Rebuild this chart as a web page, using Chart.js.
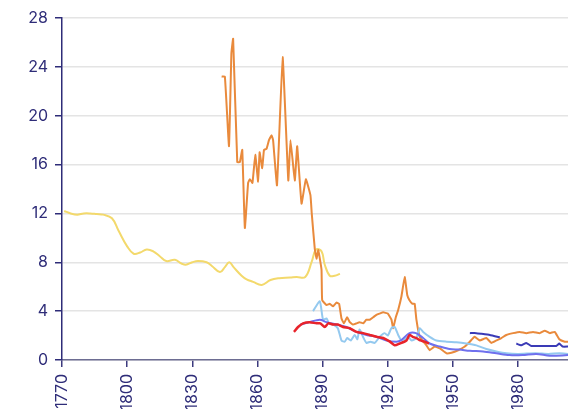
<!DOCTYPE html>
<html>
<head>
<meta charset="utf-8">
<script src="https://cdn.jsdelivr.net/npm/chart.js@4"></script>
<style>
  html, body { margin: 0; padding: 0; background: #fff; overflow: hidden; }
  #wrap { width: 568px; height: 409px; position: relative; }
</style>
</head>
<body>
<div id="wrap"><canvas id="c"></canvas></div>
<script>
// x tick labels (years) and y ticks
const xTicks = [1770, 1800, 1830, 1860, 1890, 1920, 1950, 1980];
const yTicks = [0, 4, 8, 12, 16, 20, 24, 28];

// series: years + values
const yellowYears = [1771, 1774, 1777, 1780, 1783, 1786, 1789, 1793, 1796, 1800, 1803, 1806, 1809, 1812, 1815, 1818, 1822, 1825, 1827, 1830, 1832.6, 1836.6, 1839, 1842.7, 1845, 1847, 1849, 1852.7, 1855, 1858, 1862, 1866, 1870, 1875, 1878, 1882, 1885, 1887, 1889.5, 1891, 1893.3, 1895.6, 1898];
const yellowValues = [12.2, 12.0, 11.9, 12.0, 12.0, 11.95, 11.9, 11.6, 10.6, 9.3, 8.7, 8.8, 9.05, 8.9, 8.5, 8.1, 8.2, 7.9, 7.8, 8.0, 8.1, 8.0, 7.7, 7.2, 7.6, 8.0, 7.6, 6.9, 6.6, 6.4, 6.15, 6.55, 6.7, 6.75, 6.8, 6.8, 8.05, 9.05, 8.9, 7.8, 6.9, 6.9, 7.05];

const orangeYears = [1843.5, 1845, 1846.9, 1848, 1848.8, 1850.7, 1851.9, 1853, 1854.2, 1855.7, 1856.5, 1857.7, 1859, 1860.3, 1861, 1862.2, 1863, 1864.2, 1865.3, 1866.5, 1867.2, 1869, 1871.6, 1874.2, 1875.2, 1877.2, 1878.3, 1880.3, 1882.3, 1884.4, 1885, 1886.4, 1887.2, 1888, 1889.5, 1889.8, 1891.8, 1893.3, 1894.8, 1896.4, 1897.6, 1898.7, 1899.8, 1901.3, 1902.5, 1904, 1905.6, 1907, 1908.7, 1910.2, 1911.7, 1913.3, 1914.8, 1916.3, 1917.9, 1920, 1921.7, 1922.5, 1923.7, 1924.8, 1926.3, 1927.8, 1929, 1930, 1931.4, 1932.4, 1933.2, 1934.7, 1937.8, 1939.3, 1941.6, 1944, 1947, 1949.3, 1952.4, 1955.5, 1957.8, 1960, 1962.4, 1965.4, 1967.7, 1970, 1972.3, 1974.6, 1977.7, 1980.8, 1983.8, 1986.9, 1990, 1992.3, 1994.6, 1996.9, 1999, 2001.5, 2003];
const orangeValues = [23.2, 23.2, 17.5, 25.1, 26.3, 16.2, 16.2, 17.2, 10.8, 14.5, 14.8, 14.5, 16.8, 14.6, 17.0, 15.7, 17.2, 17.3, 18.0, 18.4, 18.0, 14.3, 24.8, 14.7, 18.0, 14.7, 17.5, 12.8, 14.8, 13.5, 12.0, 9.1, 8.3, 9.0, 7.4, 4.9, 4.5, 4.6, 4.4, 4.7, 4.6, 3.4, 3.0, 3.5, 3.1, 2.9, 3.0, 3.1, 3.0, 3.3, 3.3, 3.5, 3.7, 3.8, 3.9, 3.8, 3.3, 2.6, 3.5, 4.1, 5.2, 6.8, 5.3, 4.9, 4.6, 4.6, 3.3, 1.9, 1.2, 0.8, 1.1, 0.95, 0.55, 0.6, 0.8, 1.1, 1.5, 1.9, 1.6, 1.8, 1.4, 1.6, 1.8, 2.05, 2.2, 2.3, 2.2, 2.3, 2.2, 2.4, 2.2, 2.3, 1.7, 1.5, 1.5];

const lightBlueYears = [1885.6, 1888.7, 1890.2, 1891.8, 1893, 1895, 1897, 1898.7, 1900.2, 1901.3, 1903, 1904.8, 1906, 1907, 1908.6, 1910.2, 1912, 1914, 1916.3, 1918.6, 1920, 1921.7, 1923.2, 1924.8, 1926.3, 1927.8, 1929.4, 1931, 1933.2, 1934.7, 1936.3, 1939.3, 1942.4, 1947, 1951.6, 1956.2, 1960.8, 1965.4, 1970, 1974.6, 1980, 1988, 1994, 1999, 2003];
const lightBlueValues = [4.0, 4.8, 3.3, 3.4, 3.0, 2.9, 2.6, 1.6, 1.5, 1.8, 1.6, 2.05, 1.7, 2.5, 1.9, 1.4, 1.5, 1.4, 1.9, 2.2, 2.0, 2.6, 2.7, 2.05, 1.6, 1.7, 1.9, 1.6, 1.8, 2.6, 2.3, 1.9, 1.6, 1.5, 1.45, 1.35, 1.2, 0.9, 0.7, 0.55, 0.5, 0.55, 0.5, 0.55, 0.5];

const redYears = [1876.8, 1878.7, 1881, 1884, 1887.2, 1889, 1891, 1892.6, 1894.8, 1897, 1899.4, 1902.5, 1905.6, 1908.7, 1911.7, 1914.8, 1917.9, 1921, 1923.2, 1925.5, 1928.6, 1930, 1931.5, 1933.2, 1935, 1937, 1939];
const redValues = [2.3, 2.7, 3.0, 3.1, 3.0, 3.0, 2.7, 3.0, 2.9, 2.9, 2.7, 2.6, 2.3, 2.2, 2.05, 1.9, 1.8, 1.5, 1.2, 1.35, 1.6, 2.05, 1.9, 1.8, 1.6, 1.5, 1.35];

const blueYears = [1879.8, 1884, 1888.7, 1891.8, 1896.4, 1901, 1905.6, 1910.2, 1914.8, 1919.4, 1924, 1926, 1930, 1933, 1936.3, 1939.3, 1944, 1948.5, 1953, 1957.8, 1963.9, 1970, 1976, 1982, 1988.4, 1994.6, 2003];
const blueValues = [2.9, 3.1, 3.3, 3.1, 2.9, 2.7, 2.3, 2.05, 1.9, 1.6, 1.5, 1.6, 2.2, 2.2, 1.8, 1.35, 1.1, 0.9, 0.85, 0.75, 0.7, 0.55, 0.4, 0.4, 0.5, 0.35, 0.4];

const darkBlueYears = [1957.8, 1960.8, 1963, 1967, 1971.6, 1975, 1979.2, 1981.5, 1983.8, 1986.1, 1991.5, 1997.6, 1999, 2000.5, 2003];
const darkBlueValues = [2.2, 2.2, 2.15, 2.05, 1.85, null, 1.35, 1.2, 1.4, 1.15, 1.15, 1.15, 1.35, 1.1, 1.1];

const toPoints = (xs, ys) => xs.map((x, i) => ({ x: x, y: ys[i] }));

const navy = "#2e2c78";
const font = { family: "Inter", size: 16 };

function series(xs, ys, color, tension, width) {
  return {
    data: toPoints(xs, ys),
    borderColor: color,
    backgroundColor: color,
    borderWidth: width || 2,
    pointRadius: 0,
    tension: tension,
    spanGaps: false,
  };
}

new Chart(document.getElementById("c"), {
  type: "line",
  data: {
    datasets: [
      series(redYears, redValues, "#e8232b", 0.2, 2.5),
      series(darkBlueYears, darkBlueValues, "#3a3ab6", 0.1),
      series(blueYears, blueValues, "#6f70ee", 0.3),
      series(lightBlueYears, lightBlueValues, "#94c9ef", 0.2),
      series(orangeYears, orangeValues, "#e98a3c", 0.1),
      series(yellowYears, yellowValues, "#f3d96c", 0.4),
    ],
  },
  options: {
    responsive: true,
    maintainAspectRatio: false,
    animation: false,
    layout: { padding: { top: 18, right: 0, left: 0, bottom: 0 } },
    plugins: { legend: { display: false }, tooltip: { enabled: false } },
    scales: {
      x: {
        type: "linear",
        min: 1770,
        max: 2003,
        afterBuildTicks: (scale) => {
          scale.ticks = xTicks.map((v) => ({ value: v }));
        },
        afterFit: (scale) => {
          scale.height = 49;
        },
        border: { color: "#6d6d92", width: 1.5 },
        grid: {
          drawOnChartArea: false,
          drawTicks: true,
          tickLength: 7,
          tickColor: "#3c3a7e",
          lineWidth: 1.5,
        },
        ticks: {
          minRotation: 90,
          maxRotation: 90,
          padding: 7,
          color: navy,
          font: font,
          callback: (v) => String(v),
        },
      },
      y: {
        min: 0,
        max: 28,
        afterBuildTicks: (scale) => {
          scale.ticks = yTicks.map((v) => ({ value: v }));
        },
        afterFit: (scale) => {
          scale.width = 62;
        },
        border: { color: navy, width: 1.5 },
        grid: {
          color: "#e4e4e4",
          lineWidth: 1.5,
          drawTicks: true,
          tickLength: 7,
          tickColor: navy,
        },
        ticks: {
          padding: 7,
          color: navy,
          font: font,
        },
      },
    },
  },
});
</script>
</body>
</html>
